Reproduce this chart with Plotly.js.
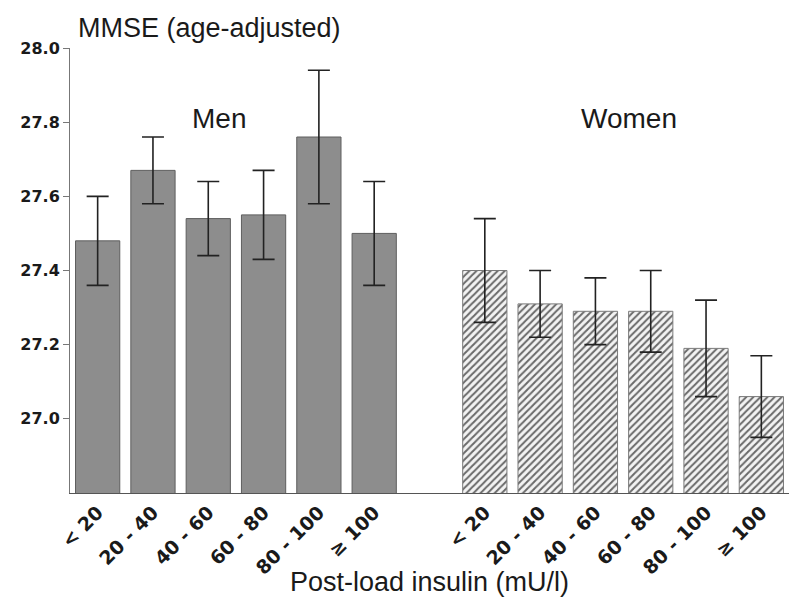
<!DOCTYPE html>
<html>
<head>
<meta charset="utf-8">
<script src="https://cdn.plot.ly/plotly-3.0.1.min.js"></script>
<style>html,body{margin:0;padding:0;background:#fff;}#chart{width:793px;height:597px;}</style>
</head>
<body>
<div id="chart"></div>
<script>
const categories = ['< 20', '20 - 40', '40 - 60', '60 - 80', '80 - 100', '\u2265 100'];
const groups = ['Men', 'Women'];
const menMMSE = [27.48, 27.67, 27.54, 27.55, 27.76, 27.50];
const menErr = [0.12, 0.09, 0.10, 0.12, 0.18, 0.14];
const womenMMSE = [27.40, 27.31, 27.29, 27.29, 27.19, 27.06];
const womenErr = [0.14, 0.09, 0.09, 0.11, 0.13, 0.11];
const yTicks = [27.0, 27.2, 27.4, 27.6, 27.8, 28.0];

// slot positions: men 0..5, one empty slot, women 7..12
const menX = categories.map((c, i) => i);
const womenX = categories.map((c, i) => i + categories.length + 1);

const FONT = 'Arial, "Liberation Sans", Helvetica, sans-serif';
const TICKFONT = '"DejaVu Sans", Verdana, sans-serif';

const traces = [
  {
    type: 'bar', name: groups[0], x: menX, y: menMMSE, width: 0.8,
    marker: {color: '#8d8d8d', line: {color: '#5e5e5e', width: 1}},
    error_y: {type: 'data', array: menErr, visible: true, color: '#222', thickness: 1.6, width: 11},
    hoverinfo: 'y'
  },
  {
    type: 'bar', name: groups[1], x: womenX, y: womenMMSE, width: 0.8,
    marker: {
      color: '#f3f3f3',
      line: {color: '#7a7a7a', width: 1},
      pattern: {shape: '/', fgcolor: '#6a6a6a', bgcolor: '#f3f3f3', size: 5, solidity: 0.4}
    },
    error_y: {type: 'data', array: womenErr, visible: true, color: '#222', thickness: 1.6, width: 11},
    hoverinfo: 'y'
  }
];

const layout = {
  width: 793, height: 597,
  margin: {l: 70, r: 4, t: 48, b: 104},
  paper_bgcolor: '#fff', plot_bgcolor: '#fff',
  showlegend: false,
  font: {family: FONT, color: '#1a1a1a'},
  xaxis: {
    range: [-0.5, 12.5],
    tickvals: menX.concat(womenX),
    ticktext: categories.concat(categories),
    tickangle: -45,
    tickfont: {family: TICKFONT, size: 19, weight: 'bold', color: '#1a1a1a'},
    showline: true, linecolor: '#555', linewidth: 1,
    ticks: '', showgrid: false, zeroline: false,
    title: {text: 'Post-load insulin (mU/l)', font: {family: FONT, size: 27, color: '#1a1a1a'}, standoff: 0}
  },
  yaxis: {
    range: [26.8, 28.0],
    tickvals: yTicks,
    ticktext: yTicks.map(v => v.toFixed(1)),
    tickfont: {family: TICKFONT, size: 16, weight: 'bold', color: '#1a1a1a'},
    showline: true, linecolor: '#777', linewidth: 1,
    ticks: 'outside', ticklen: 6, tickcolor: '#777',
    showgrid: false, zeroline: false
  },
  annotations: [
    {text: 'MMSE (age-adjusted)', xref: 'paper', yref: 'paper', x: 0.008, y: 1,
     xanchor: 'left', yanchor: 'bottom', yshift: 3, showarrow: false,
     font: {family: FONT, size: 27, color: '#1a1a1a'}},
    {text: groups[0], xref: 'x', yref: 'y', x: 2.2, y: 27.81, showarrow: false,
     xanchor: 'center', yanchor: 'middle', font: {family: FONT, size: 28, color: '#1a1a1a'}},
    {text: groups[1], xref: 'x', yref: 'y', x: 9.6, y: 27.81, showarrow: false,
     xanchor: 'center', yanchor: 'middle', font: {family: FONT, size: 28, color: '#1a1a1a'}}
  ],
  bargap: 0.2
};

Plotly.newPlot('chart', traces, layout, {displayModeBar: false, staticPlot: true});
</script>
</body>
</html>
